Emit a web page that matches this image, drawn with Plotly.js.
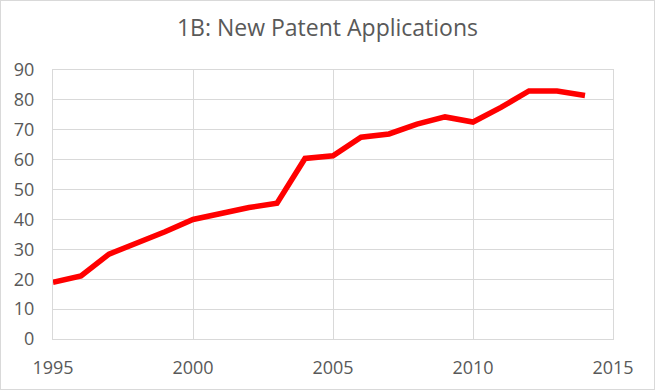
<!DOCTYPE html>
<html>
<head>
<meta charset="utf-8">
<script src="https://cdn.plot.ly/plotly-3.0.1.min.js"></script>
<style>
  html, body { margin: 0; padding: 0; background: #fff; }
  #chart { width: 655px; height: 390px; box-sizing: border-box; border: 1px solid #d9d9d9; }
</style>
</head>
<body>
<div id="chart"></div>
<script>
const years = [1995, 1996, 1997, 1998, 1999, 2000, 2001, 2002, 2003, 2004,
               2005, 2006, 2007, 2008, 2009, 2010, 2011, 2012, 2013, 2014];
const applications = [19.0, 21.1, 28.4, 32.0, 35.9, 40.0, 42.0, 44.0, 45.4, 60.4,
                      61.3, 67.5, 68.6, 71.9, 74.3, 72.6, 77.5, 83.0, 83.0, 81.5];
const xTicks = [1995, 2000, 2005, 2010, 2015];
const yTicks = [0, 10, 20, 30, 40, 50, 60, 70, 80, 90];

const trace = {
  x: years,
  y: applications,
  type: 'scatter',
  mode: 'lines',
  line: { color: '#ff0000', width: 5.5 },
  hoverinfo: 'x+y'
};

const tickFont = { family: 'Open Sans, sans-serif', size: 18, color: '#595959' };

const layout = {
  width: 653,
  height: 388,
  margin: { l: 52, r: 41, t: 69, b: 50 },
  paper_bgcolor: '#ffffff',
  plot_bgcolor: '#ffffff',
  showlegend: false,
  title: {
    text: '1B: New Patent Applications',
    font: { family: 'Open Sans, sans-serif', size: 23, color: '#595959' },
    x: 0.5, xanchor: 'center',
    y: 0.93, yanchor: 'middle'
  },
  xaxis: {
    range: [1995, 2015],
    tickvals: xTicks,
    ticktext: xTicks.map(String),
    showgrid: true,
    gridcolor: '#d9d9d9',
    gridwidth: 1,
    zeroline: false,
    showline: true,
    linecolor: '#d9d9d9',
    linewidth: 1,
    mirror: true,
    ticks: '',
    ticklabelstandoff: 12,
    tickfont: tickFont
  },
  yaxis: {
    range: [0, 90],
    tickvals: yTicks,
    ticktext: yTicks.map(String),
    showgrid: true,
    gridcolor: '#d9d9d9',
    gridwidth: 1,
    zeroline: false,
    showline: true,
    linecolor: '#d9d9d9',
    linewidth: 1,
    mirror: true,
    ticks: '',
    ticklabelstandoff: 14,
    tickfont: tickFont
  }
};

Plotly.newPlot('chart', [trace], layout, { displayModeBar: false, staticPlot: true });
</script>
</body>
</html>
